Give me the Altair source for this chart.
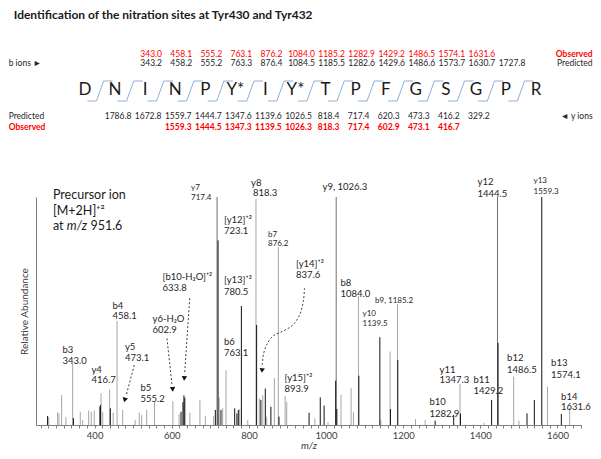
import altair as alt
import pandas as pd

FONT = "Lato"
TXT = "#262626"
RED = "#ff0000"

# ---------------- header (peptide map) ----------------
title_text = "Identification of the nitration sites at Tyr430 and Tyr432"
residues = ["D", "N", "I", "N", "P", "Y*", "I", "Y*", "T", "P", "F", "G", "S", "G", "P", "R"]
b_predicted = [343.2, 458.2, 555.2, 763.3, 876.4, 1084.5, 1185.5, 1282.6, 1429.6, 1486.6, 1573.7, 1630.7, 1727.8]
b_observed = [343.0, 458.1, 555.2, 763.1, 876.2, 1084.0, 1185.2, 1282.9, 1429.2, 1486.5, 1574.1, 1631.6]
b_first_residue = 2      # b3 ends at residue index 2
y_predicted = [1786.8, 1672.8, 1559.7, 1444.7, 1347.6, 1139.6, 1026.5, 818.4, 717.4, 620.3, 473.3, 416.2, 329.2]
y_pred_first_residue = 1
y_observed = [1559.3, 1444.5, 1347.3, 1139.5, 1026.3, 818.3, 717.4, 602.9, 473.1, 416.7]
y_obs_first_residue = 3

# ---------------- spectrum ----------------
peak_mz = [278, 281, 304, 307.5, 314.5, 325.6, 343.0, 345, 362.8, 369, 384.5, 391.3, 399,
           413.8, 415, 416.7, 421, 439, 440.7, 448, 458.1, 472.7, 505, 515.7, 522, 535, 555.2,
           602.9, 619, 624, 629, 631.5, 633.8, 647, 673, 687, 708.5, 713, 717.4, 720, 723,
           727.6, 732, 740.6, 763.1, 769, 772.5, 776, 780.5, 797, 818.3, 820, 827, 831, 836,
           842.5, 846, 857, 866, 876.2, 878, 893.9, 898, 956, 971, 985, 995, 1005, 1026.3,
           1025, 1028, 1038.8, 1065, 1071, 1084.0, 1085, 1139.5, 1142, 1166, 1167, 1185.2,
           1186, 1232, 1257, 1282.9, 1331, 1347.3, 1348.5, 1410, 1429.2, 1444.5, 1446,
           1486.5, 1500, 1521, 1540, 1559.3, 1574.1, 1610, 1631.6]
peak_int = [3.9, 3.5, 5.6, 5.2, 13.2, 3.4, 27, 3, 5.8, 2.2, 6.3, 5.8, 6.3,
            8, 8.8, 13.9, 5.8, 15.6, 7.3, 5.4, 45.6, 6.6, 2.2, 5.4, 4.4, 6.6, 10.2,
            10.5, 4.8, 5.8, 10, 13, 12, 5.4, 11, 4, 4, 6.6, 100, 81, 12,
            6.6, 7.3, 24, 7.3, 5.1, 6.6, 6.9, 52.2, 2.2, 99, 43.9, 11.7, 11, 13,
            16, 3.7, 8, 20.5, 78, 3.7, 12.7, 10.2, 5.4, 2.8, 12.1, 8.5, 1.2, 100,
            19.4, 7, 13.3, 16.2, 5.6, 56.6, 21.6, 38.5, 2, 32.2, 7, 53,
            28.5, 2.6, 2.2, 1.9, 4.4, 18, 5, 1, 11, 100, 36,
            21.2, 1.9, 5.1, 11, 100, 16.8, 4.8, 7.6]
peak_tone = ["K", "L", "L", "L", "L", "L", "L", "K", "L", "L", "L", "L", "L",
             "K", "K", "L", "L", "L", "K", "L", "L", "L", "L", "L", "L", "L", "L",
             "L", "L", "K", "K", "K", "K", "L", "L", "L", "L", "K", "M", "K", "L",
             "K", "L", "L", "K", "K", "K", "L", "K", "L", "L", "K", "L", "K", "L",
             "K", "L", "K", "L", "L", "K", "L", "L", "K", "L", "K", "K", "L", "M",
             "K", "K", "L", "L", "L", "L", "K", "K", "L", "L", "K", "L",
             "K", "L", "L", "K", "K", "L", "K", "L", "K", "M", "K",
             "L", "L", "K", "K", "K", "L", "K", "L"]

ann_text = ["y7", "717.4", "y8", "818.3", "[y12]⁺²", "723.1", "b7", "876.2", "[y13]⁺²", "780.5",
            "[b10-H₂O]⁺²", "633.8", "b4", "458.1", "y6-H₂O", "602.9", "b6", "763.1", "b3", "343.0",
            "y5", "473.1", "y4", "416.7", "b5", "555.2", "[y14]⁺²", "837.6", "[y15]⁺²", "893.9",
            "y9, 1026.3", "b8", "1084.0", "b9, 1185.2", "y10", "1139.5", "y12", "1444.5", "y13", "1559.3",
            "y11", "1347.3", "b11", "1429.2", "b10", "1282.9", "b12", "1486.5", "b13", "1574.1",
            "b14", "1631.6"]
ann_mz = [650, 650, 805.4, 810.6, 735.4, 735.4, 849.5, 849.5, 735.4, 735.4,
          575.9, 575.9, 446.2, 446.2, 550, 550, 735.4, 735.4, 316.5, 316.5,
          478.6, 478.6, 391.8, 391.8, 518.8, 518.8, 922.1, 922.1, 892.3, 892.3,
          990.8, 1037.5, 1037.5, 1127, 1094.6, 1094.6, 1392.8, 1392.8, 1538, 1538,
          1294.3, 1294.3, 1382.4, 1382.4, 1268.3, 1268.3, 1469.3, 1469.3, 1583.4, 1583.4,
          1609.3, 1609.3]
ann_int = [103.9, 99.6, 106.1, 101.8, 89.9, 85.1, 83.3, 79.2, 63.6, 58.3,
           64.9, 60.1, 52.4, 47.6, 46.3, 41.7, 36.6, 31.6, 33.1, 28.1,
           34.4, 29.4, 24.3, 19.7, 16.4, 11.6, 70.8, 65.8, 20.4, 15.6,
           104.2, 62.1, 57.5, 54.4, 48.9, 44.5, 106.4, 101.5, 106.8, 102.4,
           24.3, 19.7, 19.7, 14.9, 9.9, 5.0, 29.2, 24.3, 27.0, 22.1,
           12.5, 7.7]
ann_small = {"y7", "717.4", "b7", "876.2", "b9, 1185.2", "y10", "1139.5", "y13", "1559.3"}

precursor_text = ["Precursor ion", "[M+2H]⁺²", "at", "951.6"]
precursor_mz = [291.9, 291.9, 291.9, 389.0]
precursor_int = [100.9, 94.0, 87.3, 87.3]
precursor_italic = ["m/z"]
precursor_italic_mz = [328.0]
precursor_italic_int = [87.3]

arrow_id = ["y5"] * 2 + ["y6"] * 2 + ["b10"] * 2 + ["y14"] * 9
arrow_mz = [502.8, 481.3, 587.6, 600.6, 646.5, 633.3,
            944.1, 941.5, 932.5, 914.3, 891.0, 862.5, 847.0, 837.8, 834.7]
arrow_int = [26.3, 12.7, 38.0, 17.5, 55.6, 22.4,
             60.1, 54.8, 48.7, 43.9, 41.4, 39.0, 35.5, 31.1, 26.3]
head_mz = [478.0, 602.4, 632.5, 834.0]
head_int = [11.0, 15.6, 20.4, 23.9]
head_angle = [16, 354, 4, 5]

# ================= header panel =================
W = 545
H_TOP = 189
H_SPEC = 228
R_TITLE, R_BOBS, R_BPRED, R_RES, R_SEPT, R_SEPB, R_YPRED, R_YOBS = 7, 46, 55, 82, 73, 93, 108, 119

xt = alt.Scale(domain=[-1.63, 16.495], nice=False, zero=False)
yt = alt.Scale(domain=[0, H_TOP], reverse=True, nice=False, zero=False)
XT = alt.X("idx:Q", scale=xt, axis=None)
YT = alt.Y("row:Q", scale=yt, axis=None)

title_df = pd.DataFrame({"idx": [-2.37], "row": [R_TITLE], "text": [title_text]})
res_df = pd.DataFrame({"idx": list(range(len(residues))), "row": R_RES, "text": residues})

sep_rows = []
for k in range(len(residues) - 1):
    c = k + 0.5
    for j, (dx, r) in enumerate([(-0.42, R_SEPB), (-0.12, R_SEPB), (0.12, R_SEPT), (0.42, R_SEPT)]):
        sep_rows.append({"idx": c + dx, "row": r, "sep": k, "seq": j})
sep_df = pd.DataFrame(sep_rows)

num_rows = []
for i, v in enumerate(b_predicted):
    num_rows.append({"idx": b_first_residue + i + 0.2, "row": R_BPRED, "text": f"{v:.1f}", "col": TXT})
for i, v in enumerate(b_observed):
    num_rows.append({"idx": b_first_residue + i + 0.2, "row": R_BOBS, "text": f"{v:.1f}", "col": RED})
for i, v in enumerate(y_predicted):
    num_rows.append({"idx": y_pred_first_residue + i + 0.1, "row": R_YPRED, "text": f"{v:.1f}", "col": TXT})
num_df = pd.DataFrame(num_rows)
yobs_df = pd.DataFrame({"idx": [y_obs_first_residue + i + 0.1 for i in range(len(y_observed))],
                        "row": R_YOBS, "text": [f"{v:.1f}" for v in y_observed]})

left_df = pd.DataFrame({"idx": [-2.54, -2.54], "row": [R_BPRED, R_YPRED], "text": ["b ions ►", "Predicted"]})
left_red_df = pd.DataFrame({"idx": [-2.54], "row": [R_YOBS], "text": ["Observed"]})
right_df = pd.DataFrame({"idx": [16.88, 16.88], "row": [R_BPRED, R_YPRED], "text": ["Predicted", "◄ y ions"]})
right_red_df = pd.DataFrame({"idx": [16.88], "row": [R_BOBS], "text": ["Observed"]})

header = alt.layer(
    alt.Chart(sep_df).mark_line(color="#8fb0d8", strokeWidth=1).encode(
        x=XT, y=YT, detail="sep:N", order="seq:Q"),
    alt.Chart(title_df).mark_text(align="left", baseline="middle", font=FONT, fontSize=12,
                                  fontWeight="bold", color="#1a1a1a").encode(x=XT, y=YT, text="text:N"),
    alt.Chart(res_df).mark_text(align="center", baseline="middle", font=FONT, fontSize=17,
                                color="#1a1a1a").encode(x=XT, y=YT, text="text:N"),
    alt.Chart(num_df).mark_text(align="center", baseline="middle", font=FONT, fontSize=8.5).encode(
        x=XT, y=YT, text="text:N", color=alt.Color("col:N", scale=None)),
    alt.Chart(yobs_df).mark_text(align="center", baseline="middle", font=FONT, fontSize=8.5,
                                 fontWeight="bold", color=RED).encode(x=XT, y=YT, text="text:N"),
    alt.Chart(left_df).mark_text(align="left", baseline="middle", font=FONT, fontSize=8.5,
                                 color=TXT).encode(x=XT, y=YT, text="text:N"),
    alt.Chart(left_red_df).mark_text(align="left", baseline="middle", font=FONT, fontSize=8.5,
                                     fontWeight="bold", color=RED).encode(x=XT, y=YT, text="text:N"),
    alt.Chart(right_df).mark_text(align="right", baseline="middle", font=FONT, fontSize=8.5,
                                  color=TXT).encode(x=XT, y=YT, text="text:N"),
    alt.Chart(right_red_df).mark_text(align="right", baseline="middle", font=FONT, fontSize=8.5,
                                      fontWeight="bold", color=RED).encode(x=XT, y=YT, text="text:N"),
).properties(width=W, height=H_TOP)

# ================= spectrum panel =================
tone_order = {"L": 0, "M": 1, "K": 2}
peaks = pd.DataFrame({"mz": peak_mz, "int": peak_int, "tone": peak_tone})
peaks["o"] = peaks["tone"].map(tone_order)
peaks = peaks.sort_values("o", kind="stable")

xs = alt.Scale(domain=[248, 1661], nice=False, zero=False)
ys = alt.Scale(domain=[0, 100], nice=False, zero=True)
xaxis = alt.Axis(title="m/z", values=list(range(260, 1661, 20)), format="d",
                 labelExpr="datum.value % 200 == 0 ? datum.label : ''",
                 grid=False, domainColor="#808080", tickColor="#808080", tickSize=3,
                 labelColor="#404040", labelFont=FONT, labelFontSize=9.5, labelPadding=2,
                 titleFont=FONT, titleFontSize=10, titleFontStyle="italic", titleFontWeight="normal",
                 titleColor="#404040", titlePadding=1)
yaxis = alt.Axis(title="Relative Abundance", grid=False, ticks=False, labels=False,
                 domainColor="#808080", titleFont=FONT, titleFontSize=10, titleFontWeight="normal",
                 titleColor="#404040", titlePadding=7)
X = alt.X("mz:Q", scale=xs, axis=xaxis)
Y = alt.Y("int:Q", scale=ys, axis=yaxis)

ann = pd.DataFrame({"mz": ann_mz, "int": ann_int, "text": ann_text})
ann["fs"] = [8 if t in ann_small else 9.5 for t in ann_text]
prec = pd.DataFrame({"mz": precursor_mz, "int": precursor_int, "text": precursor_text})
prec_it = pd.DataFrame({"mz": precursor_italic_mz, "int": precursor_italic_int, "text": precursor_italic})
arrows = pd.DataFrame({"mz": arrow_mz, "int": arrow_int, "aid": arrow_id})
arrows["seq"] = list(range(len(arrows)))
heads = pd.DataFrame({"mz": head_mz, "int": head_int, "ang": head_angle})

spectrum = alt.layer(
    alt.Chart(peaks).mark_rule(strokeWidth=1).encode(
        x=X, y=Y, y2=alt.datum(0),
        color=alt.Color("tone:N", scale=alt.Scale(domain=["L", "M", "K"],
                                                   range=["#a6a6a6", "#707070", "#111111"]), legend=None)),
    alt.Chart(ann).mark_text(align="left", baseline="middle", font=FONT, color=TXT).encode(
        x=X, y=Y, text="text:N", size=alt.Size("fs:Q", scale=None)),
    alt.Chart(prec).mark_text(align="left", baseline="middle", font=FONT, fontSize=12.5, color="#1a1a1a").encode(
        x=X, y=Y, text="text:N"),
    alt.Chart(prec_it).mark_text(align="left", baseline="middle", font=FONT, fontSize=12.5, fontStyle="italic",
                                 color="#1a1a1a").encode(x=X, y=Y, text="text:N"),
    alt.Chart(arrows).mark_line(color="#404040", strokeWidth=1, strokeDash=[2, 2], interpolate="catmull-rom").encode(
        x=X, y=Y, detail="aid:N", order="seq:Q"),
    alt.Chart(heads).mark_point(shape="triangle-down", filled=True, color="#111111", size=30, opacity=1).encode(
        x=X, y=Y, angle=alt.Angle("ang:Q", scale=None)),
).properties(width=W, height=H_SPEC)

chart = alt.vconcat(header, spectrum, spacing=0, bounds="flush").properties(
    padding=0
).configure_view(stroke=None)

chart.save("out.html", embed_options={"renderer": "svg", "actions": False})
